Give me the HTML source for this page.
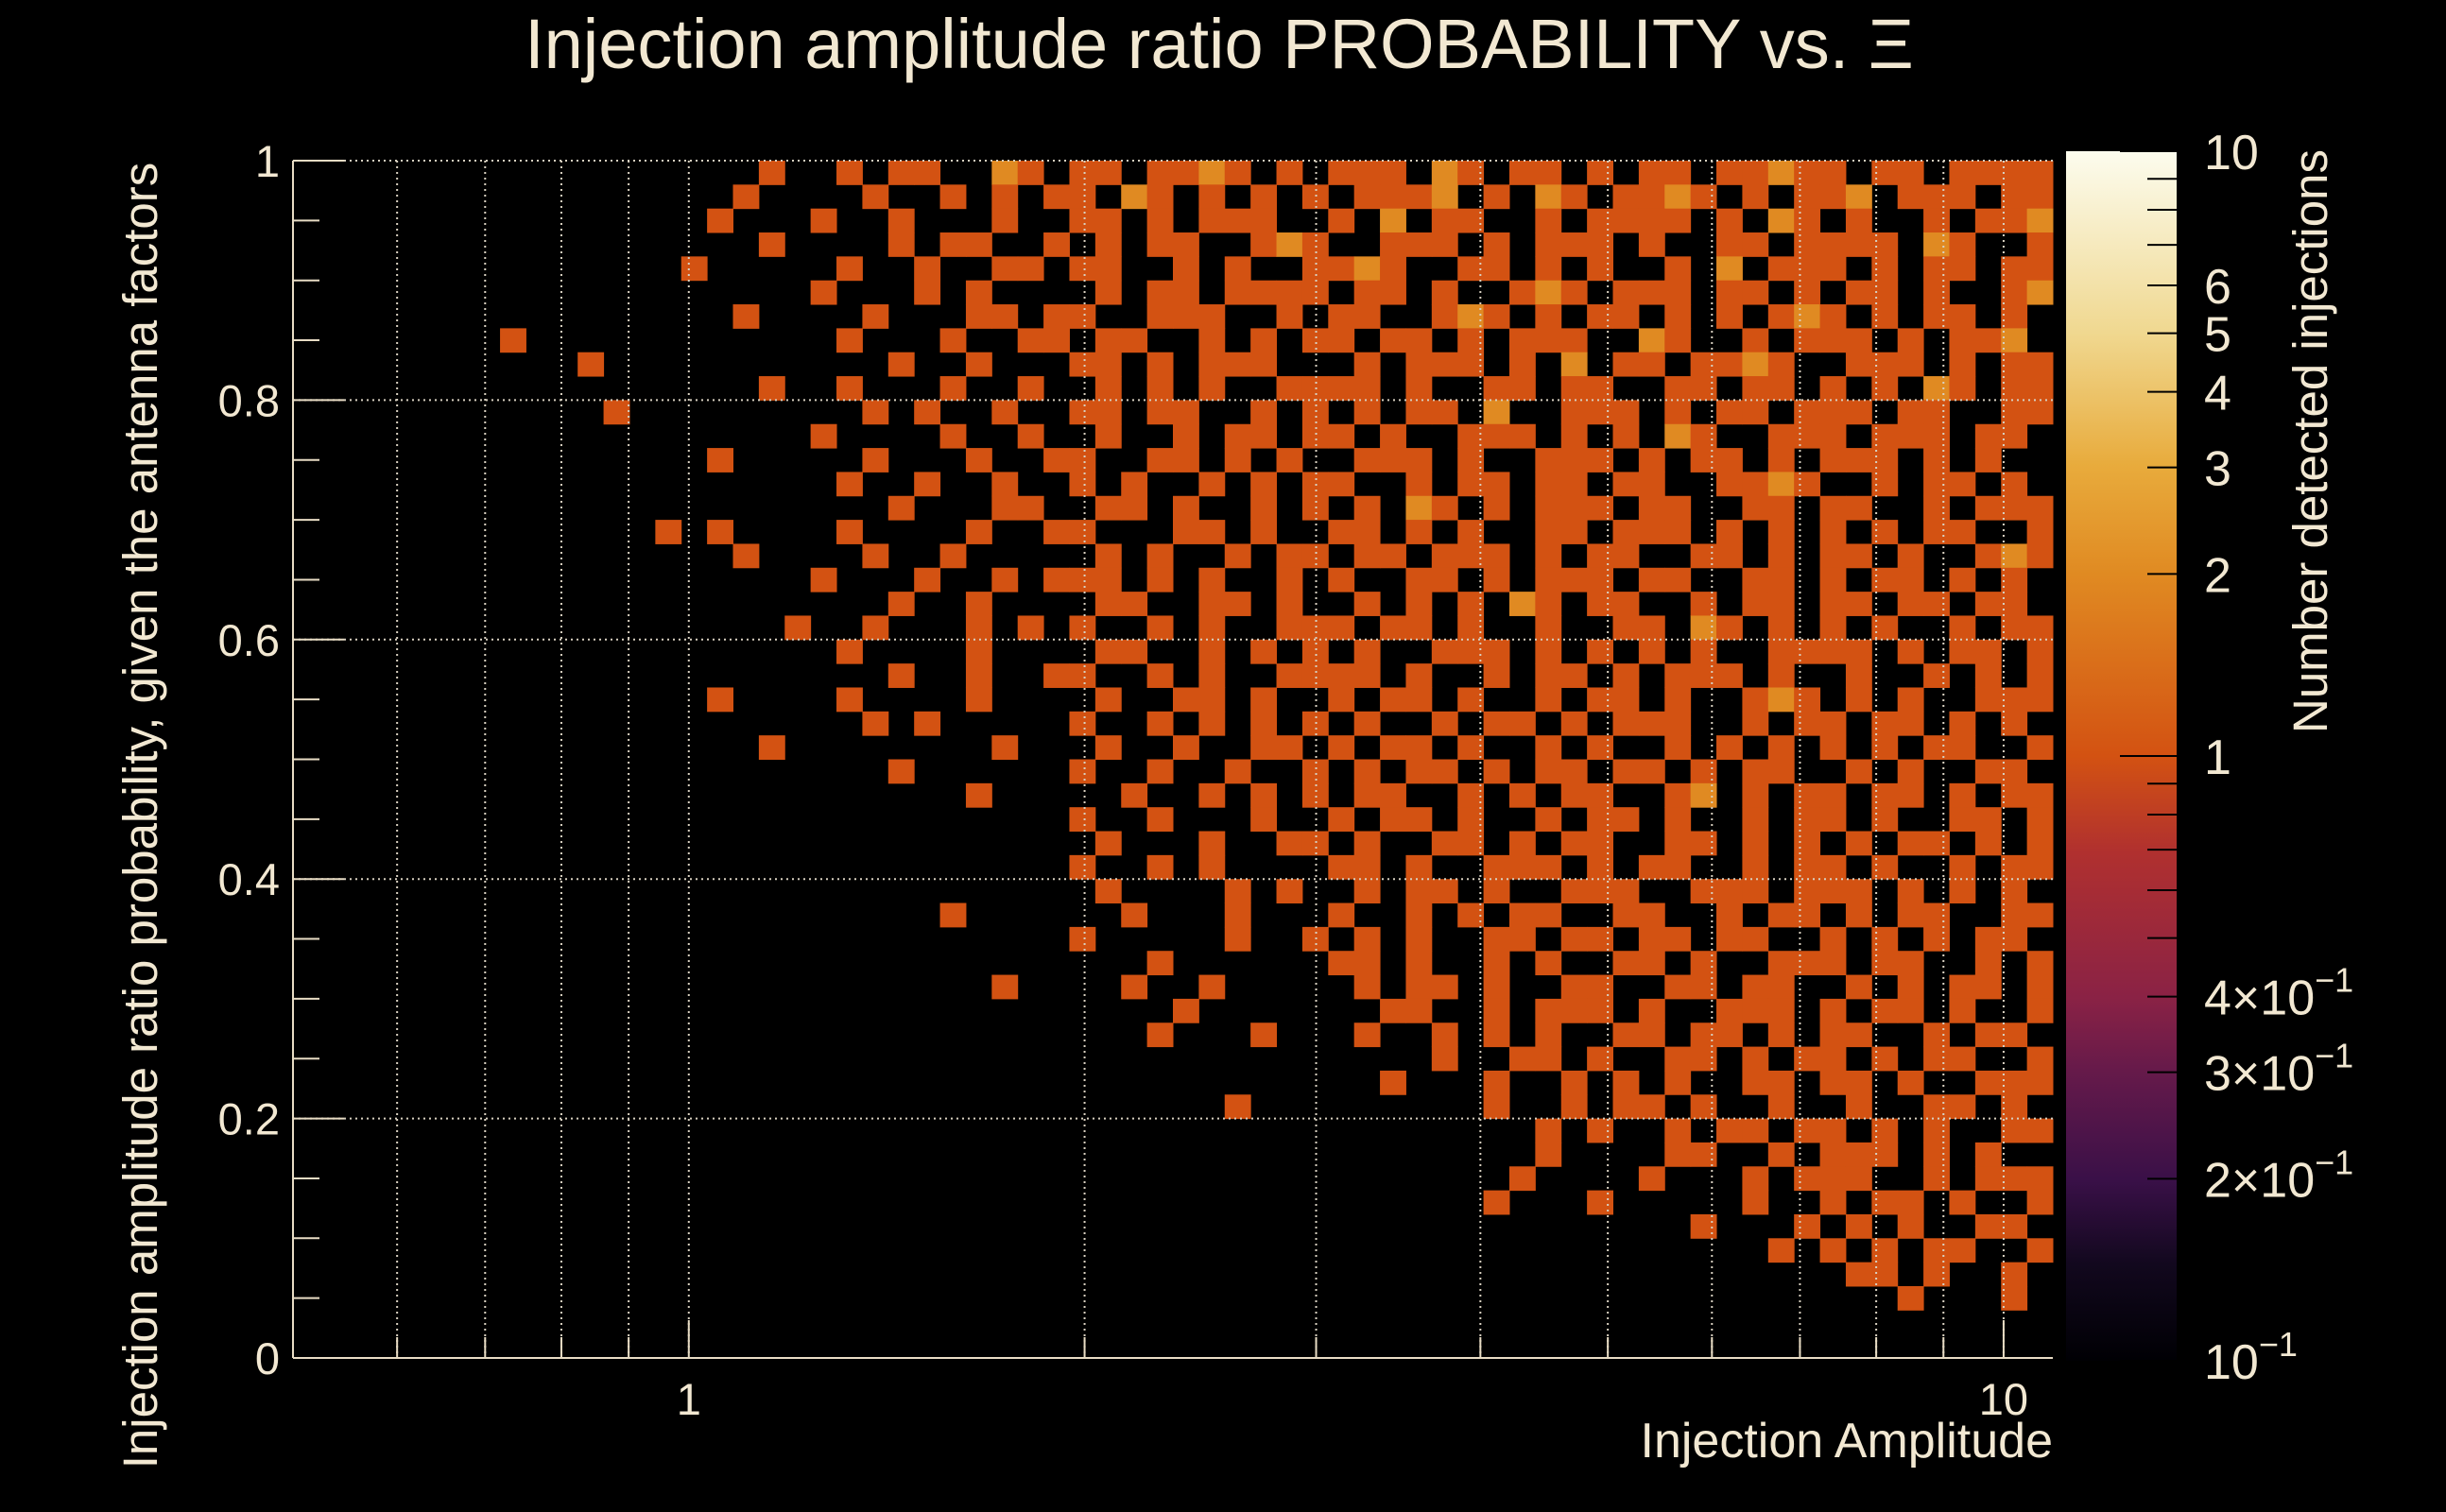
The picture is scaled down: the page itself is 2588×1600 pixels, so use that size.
<!DOCTYPE html>
<html><head><meta charset="utf-8">
<style>
html,body{margin:0;padding:0;background:#000;}
svg{display:block;}
text{font-family:"Liberation Sans",sans-serif;fill:#f2e8d2;}
</style></head>
<body>
<svg id="chart" width="2588" height="1600" viewBox="0 0 2588 1600" xmlns="http://www.w3.org/2000/svg">
<rect width="2588" height="1600" fill="#000"/>
<text x="1290" y="72" font-size="74" text-anchor="middle">Injection amplitude ratio PROBABILITY vs.  Ξ</text>
<g id="cells"></g>
<g id="grid"></g>
<g id="axes"></g>
<g id="cbar"></g>
<text x="2172" y="1542" font-size="52" text-anchor="end">Injection Amplitude</text>
<text transform="translate(166,863) rotate(-90)" font-size="51" text-anchor="middle">Injection amplitude ratio probability, given the antenna factors</text>
<text transform="translate(2462,158) rotate(-90)" font-size="51" text-anchor="end">Number detected injections</text>
</svg>
<script>
// ---- data ----
const xRange = [0.5, 10.9];
const yRange = [0, 1];
const zRange = [0.1, 10];
const xTickLabels = ["1", "10"];
const xTickValues = [1, 10];
const xMinorValues = [0.6,0.7,0.8,0.9,2,3,4,5,6,7,8,9];
const yTickValues = [0, 0.2, 0.4, 0.6, 0.8, 1];
const yTickLabels = ["0", "0.2", "0.4", "0.6", "0.8", "1"];
const zTickValues = [10, 6, 5, 4, 3, 2, 1, 0.4, 0.3, 0.2, 0.1];
const zTickMant = ["10","6","5","4","3","2","1","4×10","3×10","2×10","10"];
const zTickExp = ["","","","","","","","−1","−1","−1","−1"];
// counts per bin, row 0 = top (y near 1); 68 log-x bins, 50 y bins
const countRows = [
".......... ........1. .1.11..21. 11.1121.1. 111.21.11. 1.11.11211 .11.1111",
".......... .......1.. ..1..1.1.1 1.21.1.1.1 .1112.1.21 .1121.1.11 2.111.11",
".......... ......1... 1..1...1.. 11.1.111.. 1.2.11..1. 1111.1.21. 1..1.112",
".......... ........1. ...1.11..1 .1.11..121 ..111.1.11 1.1..11.11 11.21..1",
".......... .....1.... .1..1..11. 11..1.1..1 121..11.1. 1..1.2.111 .1.11.11",
".......... .......... 1...1.1... .1.11.1111 .11.1..121 .111.11.1. 11.1..12",
".......... .......1.. ..1...11.1 1..111..1. 11..121.1. 11.1.1.121 .1.11.1.",
"........1. .......... .1...1..11 .11..1.1.1 1.11.1.111 ..21..1.11 1.1.112.",
".......... .1........ ...1..1... 11.1.111.. .1.111.1.2 .11.1121.. 111.1.11",
".......... ........1. .1...1..1. .1.1.1..11 11.1..11.1 1..11.11.1 .1.21.11",
".......... ..1....... ..1.1..1.. 11.11..1.1 .1.11.2..1 11.1.11.11 1.11..11",
".......... .......... 1....1..1. .1..1.11.1 1.1..111.1 .1.21..111 .111.11.",
".......... ......1... ..1...1..1 1..11.1.1. .111.1..11 1.1.11.1.1 11.1.1..",
".......... .......... .1..1..1.. 1.1..1.1.1 1..1.11.11 .11..1121. .1.11.1.",
".......... .......... ...1...11. .11.1..1.1 .1.21.1.11 1.11..11.1 1..1.111",
".......... ....1.1... .1....1..1 1...11.1.. 11.1.1..11 .111.1.1.1 .1.11..1",
".......... .......1.. ..1..1.... .1.1..1.11 .11.111.1. 11..11.1.1 1.1..121",
".......... .......... 1...1..1.1 11.1.1..1. 1..11.1.11 1.11..11.1 .11.1.1.",
".......... .......... ...1..1... .11..11.1. .1.1.1.21. 11..1.11.1 1.11.11.",
".......... .........1 ..1...1.1. 1..1.1..11 1.11.1..1. .11.21.1.1 .1..1.11",
".......... .......... .1....1... .11..1.1.1 .1..111.1. 1.1.1..111 1.1.11.1",
".......... .......... ...1..1..1 1..1.1..11 11.1..1.11 .1.111.1.. 1..1.1.1",
".......... ......1... .1....1... .1..11.1.. 1.11.1..1. 11.1..121. 1.1..111",
".......... .......... ..1.1..... 1..1.1.1.1 .1..1.11.1 .111..1.11 .11.1.1.",
".......... ........1. .......1.. .1..1..11. 1.11.1..1. 1..1.1.1.1 .1.11..1",
".......... .......... ...1...... 1..1..1..1 .1.11.1.11 .11.1.11.. 1.1..11.",
".......... .......... ......1... ..1..1.1.1 .11..1.1.1 1..12.1.11 .11.1.11",
".......... .......... .......... 1..1...1.. 1.11.1..1. 11.1..1.11 .1..11.1",
".......... .......... .......... .1...1..11 .1..11.1.1 1..11.1.1. 1.11.1.1",
".......... .......... .......... 1..1.1.... 11.1..111. 1.11..1.11 .1..1.11",
".......... .......... .......... .1....1.1. .1.11.1..1 11..111.11 1.1.1.1.",
".......... .......... .....1.... ..1...1... 1..1.1.11. .11..1.11. 1.11..11",
".......... .......... .......... 1.....1..1 .1.1..11.1 1.11.11..1 .1.1.11.",
".......... .......... .......... ...1...... 11.1..1.1. .11.1..111 .11..1.1",
".......... .......... .......1.. ..1..1.... .1.11.1..1 1..11.11.. 1.1.11.1",
".......... .......... .......... ....1..... ..11..1.11 1.1..111.1 .11.1..1",
".......... .......... .......... ...1...1.. .1..1.1.1. .11.11.1.1 1..1.11.",
".......... .......... .......... .......... ....1..11. 1..11.1.11 .1.11..1",
".......... .......... .......... .......... ..1...1..1 .1.1..11.1 1.1..111",
".......... .......... .......... ......1... ......1..1 .11.1..1.. 1..11.1.",
".......... .......... .......... .......... ........1. 1..1.11.11 .1.1..11",
".......... .......... .......... .......... ........1. ...11..1.1 11.1.1..",
".......... .......... .......... .......... .......1.. ..1...1.11 1..1.111",
".......... .......... .......... .......... ......1... 1.....1..1 .11.1..1",
".......... .......... .......... .......... .......... ....1...1. 1.1..11.",
".......... .......... .......... .......... .......... .......1.1 .1.11..1",
".......... .......... .......... .......... .......... .......... 11.1..1.",
".......... .......... .......... .......... .......... .......... ..1...1.",
".......... .......... .......... .......... .......... .......... ........",
".......... .......... .......... .......... .......... .......... ........"
];
const NX = 68, NY = 50;

// ---- layout ----
const PL = 310, PR = 2172, PT = 170, PB = 1437;
const CBL = 2186, CBR = 2303, CBT = 160, CBB = 1440;
const NS = "http://www.w3.org/2000/svg";
const lx0 = Math.log10(xRange[0]), lx1 = Math.log10(xRange[1]);
function xPos(v){ return PL + (Math.log10(v) - lx0) / (lx1 - lx0) * (PR - PL); }
function xBinPos(i){ return PL + i / NX * (PR - PL); }
function yPos(v){ return PB - (v - yRange[0]) / (yRange[1] - yRange[0]) * (PB - PT); }
function zPos(v){ const a = Math.log10(zRange[0]), b = Math.log10(zRange[1]); return CBB - (Math.log10(v) - a) / (b - a) * (CBB - CBT); }
const stops = [[0,"#000004"],[0.08,"#12081e"],[0.15,"#3a1048"],[0.24,"#661a4a"],[0.30,"#8a2245"],[0.42,"#b0302f"],[0.5,"#d35212"],[0.65,"#e08a22"],[0.74,"#e8ab3c"],[0.85,"#f0d890"],[1,"#fcfcee"]];
function hex(c){return [1,3,5].map(i=>parseInt(c.substr(i,2),16));}
function color(v){
  const t = (Math.log10(v) - Math.log10(zRange[0])) / (Math.log10(zRange[1]) - Math.log10(zRange[0]));
  for (let i=1;i<stops.length;i++){ if (t<=stops[i][0]){ const a=stops[i-1],b=stops[i]; const f=(t-a[0])/(b[0]-a[0]); const ca=hex(a[1]),cb=hex(b[1]); return "rgb("+ca.map((x,k)=>Math.round(x+(cb[k]-x)*f)).join(",")+")"; } }
  return stops[stops.length-1][1];
}
function mk(tag, attrs, parent){ const e=document.createElementNS(NS,tag); for(const k in attrs) e.setAttribute(k, attrs[k]); parent.appendChild(e); return e; }

// cells
const cells = document.getElementById("cells");
countRows.forEach((row, r) => {
  const s = row.replace(/ /g, "");
  for (let c = 0; c < NX && c < s.length; c++) {
    const ch = s[c];
    if (ch === ".") continue;
    const v = parseInt(ch, 10);
    const y0 = yPos(1 - r / NY), y1 = yPos(1 - (r + 1) / NY);
    const el = mk("rect", {x: xBinPos(c), y: y0, width: xBinPos(c+1)-xBinPos(c)+0.5, height: y1-y0+0.5, fill: color(v)}, cells);
    
    
  }
});

// grid
const grid = document.getElementById("grid");
xTickValues.concat(xMinorValues).forEach(v => {
  const el = mk("line", {x1: xPos(v), x2: xPos(v), y1: PT, y2: PB, stroke: "#d8d0c0", "stroke-width": 2, "stroke-dasharray": "2,4"}, grid);
  
  
});
yTickValues.forEach(v => {
  if (v === 0) return;
  const el = mk("line", {x1: PL, x2: PR, y1: yPos(v), y2: yPos(v), stroke: "#d8d0c0", "stroke-width": 2, "stroke-dasharray": "2,4"}, grid);
  
  
});

// axes
const axes = document.getElementById("axes");
mk("line", {x1: PL, x2: PL, y1: PT, y2: PB, stroke: "#e8dcc4", "stroke-width": 2}, axes);
mk("line", {x1: PL, x2: PR, y1: PB, y2: PB, stroke: "#e8dcc4", "stroke-width": 2}, axes);
for (let i = 0; i <= 20; i++) {
  const v = i * 0.05, major = i % 4 === 0;
  mk("line", {x1: PL, x2: PL + (major ? 54 : 28), y1: yPos(v), y2: yPos(v), stroke: "#e8dcc4", "stroke-width": 2}, axes);
}
yTickValues.forEach((v, i) => {
  const el = mk("text", {x: PL - 14, y: yPos(v) + 17, "font-size": 47, "text-anchor": "end"}, axes);
  el.textContent = yTickLabels[i];
  
  
});
xTickValues.forEach((v, i) => {
  mk("line", {x1: xPos(v), x2: xPos(v), y1: PB, y2: PB - 40, stroke: "#e8dcc4", "stroke-width": 2}, axes);
  const el = mk("text", {x: xPos(v), y: PB + 60, "font-size": 47, "text-anchor": "middle"}, axes);
  el.textContent = xTickLabels[i];
  
  
});
xMinorValues.forEach(v => mk("line", {x1: xPos(v), x2: xPos(v), y1: PB, y2: PB - 22, stroke: "#e8dcc4", "stroke-width": 2}, axes));

// colorbar
const cb = document.getElementById("cbar");
const defs = mk("defs", {}, cb);
const lg = mk("linearGradient", {id: "cbg", x1: 0, y1: 1, x2: 0, y2: 0}, defs);
stops.forEach(s => mk("stop", {offset: s[0], "stop-color": s[1]}, lg));
const cbr = mk("rect", {x: CBL, y: CBT, width: CBR - CBL, height: CBB - CBT, fill: "url(#cbg)"}, cb);


[10,9,8,7,6,5,4,3,2,1,0.9,0.8,0.7,0.6,0.5,0.4,0.3,0.2,0.1].forEach(v => {
  const major = [10,1,0.1].includes(v);
  mk("line", {x1: CBR, x2: CBR - (major ? 60 : 31), y1: zPos(v), y2: zPos(v), stroke: "#000", "stroke-width": 2}, cb);
});
zTickValues.forEach((v, i) => {
  const el = mk("text", {x: 2332, y: zPos(v) + 19, "font-size": 52}, cb);
  el.textContent = zTickMant[i];
  if (zTickExp[i]) {
    const sp = mk("tspan", {dy: -24, "font-size": 36}, el);
    sp.textContent = zTickExp[i];
  }
  
  
});
</script>
</body></html>
